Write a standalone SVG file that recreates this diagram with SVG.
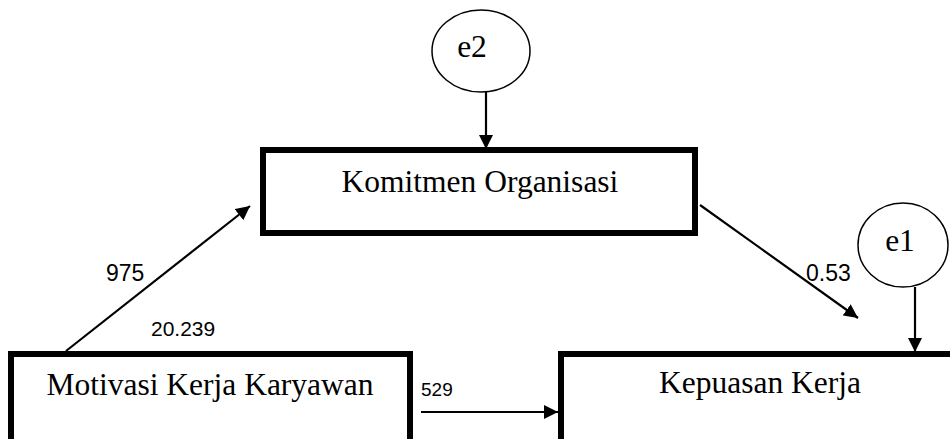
<svg xmlns="http://www.w3.org/2000/svg" width="950" height="439" viewBox="0 0 950 439">
<style>
.box{fill:#fff;stroke:#000;stroke-width:6}
.ell{fill:#fff;stroke:#000;stroke-width:1.5}
.lbl{font-family:"Liberation Serif","Times New Roman",serif;font-size:31.5px;fill:#000;text-anchor:middle}
.num{font-family:"Liberation Sans",Arial,sans-serif;font-size:21px;fill:#000}
.con{stroke:#000;stroke-width:2.2;fill:none;marker-end:url(#ah)}
</style>
<defs>
<marker id="ah" markerUnits="userSpaceOnUse" markerWidth="14" markerHeight="14" refX="14" refY="7" orient="auto">
<path d="M0,0 L14,7 L0,14 z" fill="#000"/>
</marker>
</defs>
<rect width="950" height="439" fill="#fff"/>
<g id="connectors">
<line class="con" x1="486" y1="92" x2="486" y2="149"/>
<line class="con" x1="66" y1="351" x2="250" y2="206"/>
<line class="con" x1="700" y1="205" x2="858" y2="318"/>
<line class="con" x1="915" y1="287" x2="915" y2="352"/>
<line class="con" x1="421" y1="412" x2="558" y2="412"/>
<text class="num" x="106" y="281" style="font-size:23px">975</text>
<text class="num" x="151" y="336">20.239</text>
<text class="num" x="806" y="281" style="font-size:23px">0.53</text>
<text class="num" x="421" y="396" style="font-size:19px">529</text>
</g>
<g id="e2">
<ellipse class="ell" cx="481" cy="51" rx="49" ry="41"/>
<text class="lbl" x="472" y="57">e2</text>
</g>
<g id="e1">
<ellipse class="ell" cx="903" cy="245" rx="45" ry="42"/>
<text class="lbl" x="900" y="251">e1</text>
</g>
<g id="komitmen">
<rect class="box" x="263" y="150" width="432" height="83"/>
<text class="lbl" x="480" y="192">Komitmen Organisasi</text>
</g>
<g id="motivasi">
<rect class="box" x="11" y="354" width="399" height="100"/>
<text class="lbl" x="210" y="395">Motivasi Kerja Karyawan</text>
</g>
<g id="kepuasan">
<rect class="box" x="561" y="354" width="420" height="100"/>
<text class="lbl" x="760" y="393">Kepuasan Kerja</text>
</g>
</svg>
